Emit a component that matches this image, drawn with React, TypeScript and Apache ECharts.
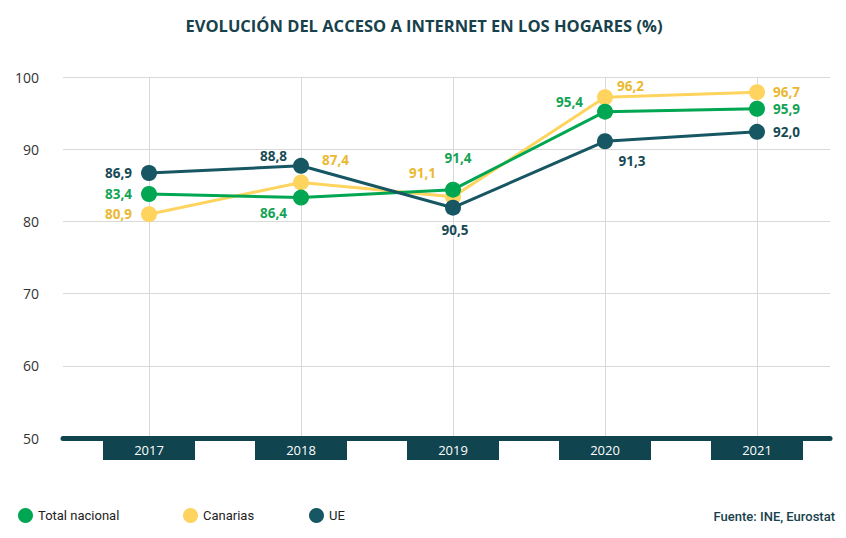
import React, { useEffect, useRef } from "react";
import * as echarts from "echarts";

const years = ["2017", "2018", "2019", "2020", "2021"];
// plotted positions (as drawn)
const totalNacional = [83.8, 83.3, 84.4, 95.2, 95.6];
const canarias = [81.0, 85.4, 83.4, 97.2, 97.9];
const ue = [86.7, 87.7, 81.9, 91.1, 92.4];
// printed value labels (as written)
const totalNacionalLabels = ["83,4", "86,4", "91,4", "95,4", "95,9"];
const canariasLabels = ["80,9", "87,4", "91,1", "96,2", "96,7"];
const ueLabels = ["86,9", "88,8", "90,5", "91,3", "92,0"];
const seriesNames = ["Total nacional", "Canarias", "UE"];
const titleText = "EVOLUCIÓN DEL ACCESO A INTERNET EN LOS HOGARES (%)";
const sourceText = "Fuente: INE, Eurostat";

const GREEN = "#00a651";
const YELLOW = "#fed45e";
const TEAL = "#175663";
const DARK = "#10444f";

const totalLayout: any[] = [
  { position: "left", distance: 9 },
  { position: "left", distance: 6, offset: [0, 15] },
  { position: "top", distance: 17, offset: [5, 0] },
  { position: "left", distance: 14, offset: [0, -10] },
  { position: "right", distance: 8 },
];
const canariasLayout: any[] = [
  { position: "left", distance: 9 },
  { position: "right", distance: 13, offset: [0, -22] },
  { position: "left", distance: 9, offset: [0, -24] },
  { position: "right", distance: 4, offset: [0, -11] },
  { position: "right", distance: 8 },
];
const ueLayout: any[] = [
  { position: "left", distance: 9 },
  { position: "left", distance: 6, offset: [0, -10] },
  { position: "bottom", distance: 7, offset: [2, 0] },
  { position: "bottom", distance: 5, offset: [27, 0] },
  { position: "right", distance: 8 },
];

function makeSeries(
  name: string,
  values: number[],
  labels: string[],
  layout: any[],
  color: string,
  labelColor: string,
  z: number
) {
  return {
    type: "line",
    name,
    xAxisIndex: 0,
    yAxisIndex: 0,
    z,
    symbol: "circle",
    symbolSize: 16,
    data: values.map((v, i) => ({ value: v, label: { ...layout[i] } })),
    lineStyle: { color, width: 3 },
    itemStyle: { color },
    emphasis: { disabled: true },
    label: {
      show: true,
      formatter: (p: any) => labels[p.dataIndex],
      color: labelColor,
      fontFamily: "Open Sans",
      fontWeight: "bold",
      fontSize: 13.5,
    },
  };
}

function legendAt(name: string, left: number) {
  return {
    data: [name],
    left,
    top: 503,
    icon: "circle",
    itemWidth: 15,
    itemHeight: 15,
    selectedMode: false,
    textStyle: { fontFamily: "Roboto", fontSize: 13, color: "#222" },
  };
}

export default function App() {
  const ref = useRef<HTMLDivElement>(null);
  useEffect(() => {
    document.body.style.margin = "0";
    if (!ref.current) return;
    const chart = echarts.init(ref.current, undefined, { renderer: "svg" });
    const option: any = {
      animation: false,
      backgroundColor: "#ffffff",
      graphic: [
        {
          type: "text",
          x: 424,
          y: 25,
          style: {
            text: titleText,
            align: "center",
            verticalAlign: "middle",
            fill: "#17424c",
            fontFamily: "Open Sans",
            fontWeight: "bold",
            fontSize: 16.5,
          },
        },
        {
          type: "text",
          x: 835,
          y: 516,
          style: {
            text: sourceText,
            align: "right",
            verticalAlign: "middle",
            fill: "#17424c",
            fontFamily: "Roboto",
            fontWeight: 500,
            fontSize: 13,
          },
        },
      ],
      legend: [
        legendAt(seriesNames[0], 13),
        legendAt(seriesNames[1], 178),
        legendAt(seriesNames[2], 304),
      ],
      grid: [
        { left: 149, right: 89, top: 77, bottom: 100 },
        { left: 63, right: 16, top: 77, bottom: 100 },
      ],
      xAxis: [
        {
          type: "category",
          gridIndex: 0,
          data: years,
          boundaryGap: false,
          axisLine: { show: false },
          axisTick: { show: false },
          splitLine: { show: true, lineStyle: { color: "#d9d9d9", width: 1 } },
          axisLabel: {
            interval: 0,
            margin: 2,
            formatter: "{b|{value}}",
            rich: {
              b: {
                width: 92,
                height: 20,
                lineHeight: 20,
                align: "center",
                backgroundColor: DARK,
                color: "#ffffff",
                fontSize: 13,
                fontFamily: "Open Sans",
              },
            },
          },
        },
        {
          type: "value",
          gridIndex: 1,
          axisLine: { show: true, onZero: false, lineStyle: { color: DARK, width: 5, cap: "round" } },
          axisLabel: { show: false },
          axisTick: { show: false },
          splitLine: { show: false },
        },
      ],
      yAxis: [
        { type: "value", gridIndex: 0, min: 50, max: 100, interval: 10, show: false },
        {
          type: "value",
          gridIndex: 1,
          min: 50,
          max: 100,
          interval: 10,
          axisLine: { show: false },
          axisTick: { show: false },
          splitLine: { show: true, lineStyle: { color: "#d9d9d9", width: 1 } },
          axisLabel: { margin: 24, color: "#333", fontSize: 14, fontFamily: "Open Sans" },
        },
      ],
      series: [
        makeSeries(seriesNames[1], canarias, canariasLabels, canariasLayout, YELLOW, "#ebb832", 3),
        makeSeries(seriesNames[0], totalNacional, totalNacionalLabels, totalLayout, GREEN, "#14a354", 4),
        makeSeries(seriesNames[2], ue, ueLabels, ueLayout, TEAL, "#174a55", 5),
      ],
    };
    chart.setOption(option);
    return () => chart.dispose();
  }, []);
  return <div ref={ref} style={{ width: 846, height: 538 }} />;
}
